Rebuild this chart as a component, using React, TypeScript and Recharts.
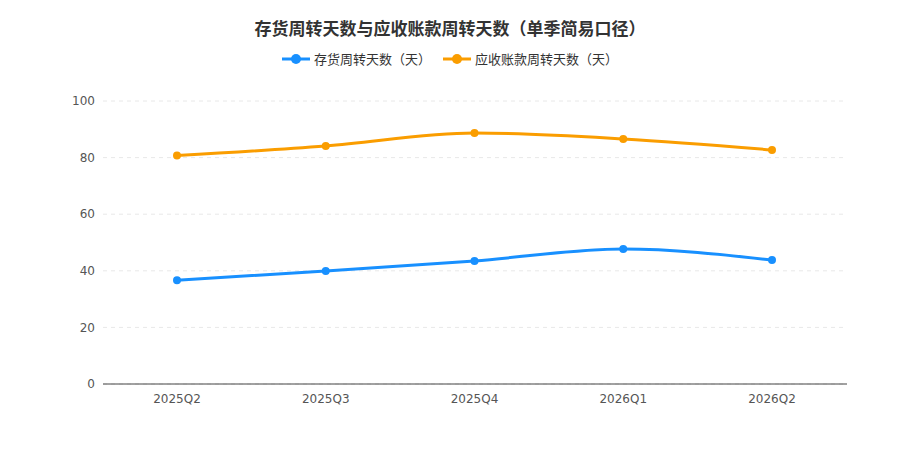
import React from 'react';
import { LineChart, Line, XAxis, YAxis, CartesianGrid } from 'recharts';

const categories = ['2025Q2', '2025Q3', '2025Q4', '2026Q1', '2026Q2'];
const inventoryDays = [36.7, 39.9, 43.5, 47.7, 43.8];
const receivableDays = [80.7, 84.1, 88.7, 86.6, 82.7];
const yTicks = [0, 20, 40, 60, 80, 100];

const data = categories.map((c, i) => ({ name: c, inv: inventoryDays[i], rec: receivableDays[i] }));
const font = '"DejaVu Sans", "Noto Sans CJK SC", sans-serif';

const LegendItem = ({ color, label }: { color: string; label: string }) => (
  <span style={{ display: 'inline-flex', alignItems: 'center', margin: '0 6px' }}>
    <svg width={28} height={14} style={{ marginRight: 4 }}>
      <line x1={0} y1={7} x2={28} y2={7} stroke={color} strokeWidth={3} />
      <circle cx={14} cy={7} r={5} fill={color} />
    </svg>
    {label}
  </span>
);

export default function App() {
  return (
    <div style={{ position: 'absolute', left: 0, top: 0, width: 900, height: 450, background: '#fff', fontFamily: font }}>
      <div style={{ position: 'absolute', top: 15, width: 900, textAlign: 'center', fontSize: 17, fontWeight: 'bold', color: '#333' }}>
        存货周转天数与应收账款周转天数（单季简易口径）
      </div>
      <div style={{ position: 'absolute', top: 49, width: 900, textAlign: 'center', fontSize: 13, color: '#333', display: 'flex', justifyContent: 'center' }}>
        <LegendItem color="#1890ff" label="存货周转天数（天）" />
        <LegendItem color="#fa9d00" label="应收账款周转天数（天）" />
      </div>
      <LineChart width={900} height={450} data={data} margin={{ top: 101, right: 53, bottom: 36, left: 43 }}>
        <CartesianGrid vertical={false} stroke="#e8e8e8" strokeDasharray="4 4" />
        <XAxis dataKey="name" tickLine={false} padding={{ left: 74, right: 75 }} axisLine={{ stroke: '#444' }} tick={{ fill: '#555', fontSize: 12, fontFamily: font }} height={30} tickMargin={4} />
        <YAxis domain={[0, 100]} ticks={yTicks} axisLine={false} tickLine={false} width={60} tick={{ fill: '#555', fontSize: 12, fontFamily: font }} />
        <Line type="monotone" dataKey="inv" stroke="#1890ff" strokeWidth={3} dot={{ r: 2.5, fill: '#1890ff', stroke: '#1890ff' }} isAnimationActive={false} />
        <Line type="monotone" dataKey="rec" stroke="#fa9d00" strokeWidth={3} dot={{ r: 2.5, fill: '#fa9d00', stroke: '#fa9d00' }} isAnimationActive={false} />
      </LineChart>
    </div>
  );
}
